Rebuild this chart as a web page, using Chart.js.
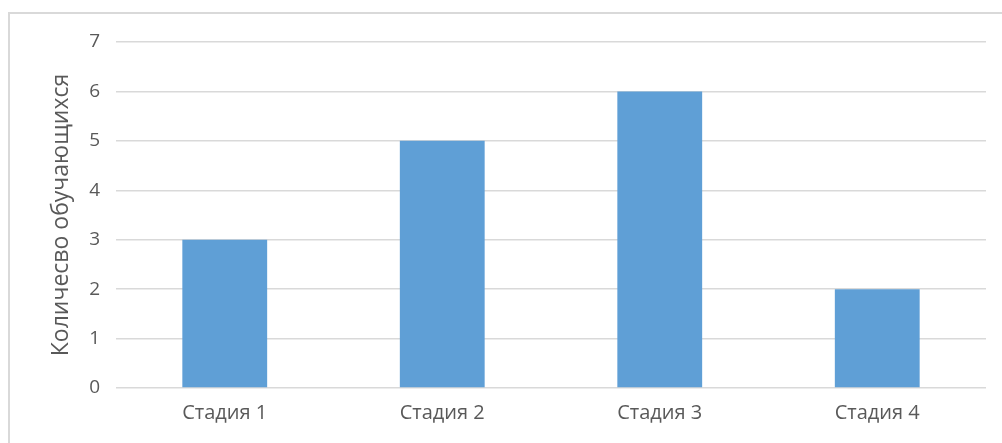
<!DOCTYPE html>
<html>
<head>
<meta charset="utf-8">
<script src="https://cdn.jsdelivr.net/npm/chart.js@4"></script>
<style>
  html, body { margin: 0; padding: 0; background: #fff; }
  #wrap { position: relative; width: 1002px; height: 443px; overflow: hidden; }
  #frame { position: absolute; left: 8px; top: 12px; width: 1010px; height: 450px;
           border: 2px solid #d9d9d9; box-sizing: border-box; }
  #c { position: absolute; left: 0; top: 0; }
</style>
</head>
<body>
<div id="wrap">
  <div id="frame"></div>
  <canvas id="c" width="1002" height="443"></canvas>
</div>
<script>
// ── dati ──
const stadie   = ['Стадия 1', 'Стадия 2', 'Стадия 3', 'Стадия 4'];
const studenti = [3, 5, 6, 2];
const titoloY  = 'Количесво обучающихся';
const yMax     = 7;

const font = { family: 'Open Sans, Liberation Sans, sans-serif', size: 19 };

new Chart(document.getElementById('c'), {
  type: 'bar',
  data: {
    labels: stadie,
    datasets: [{ data: studenti, backgroundColor: '#5f9fd6', borderWidth: 0,
                 categoryPercentage: 0.39, barPercentage: 1 }]
  },
  options: {
    responsive: false, animation: false, devicePixelRatio: 1,
    layout: { padding: { left: 0, right: 16, top: 42, bottom: 0 } },
    plugins: { legend: { display: false }, tooltip: { enabled: false } },
    scales: {
      x: {
        grid: { display: false, drawTicks: false }, border: { display: false },
        ticks: { color: '#595959', font: { ...font, size: 20 }, padding: 13 },
        afterFit: s => { s.height = 443 - 388; }
      },
      y: {
        min: 0, max: yMax,
        grid: { color: '#d9d9d9', lineWidth: 1.5, drawTicks: false }, border: { display: false },
        ticks: { stepSize: 1, color: '#595959', font, padding: 16 },
        title: { display: true, text: titoloY, color: '#595959', font: { ...font, size: 23 },
                 padding: { top: 48, bottom: 0 } },
        afterFit: s => { s.width = 116; }
      }
    }
  }
});
</script>
</body>
</html>
